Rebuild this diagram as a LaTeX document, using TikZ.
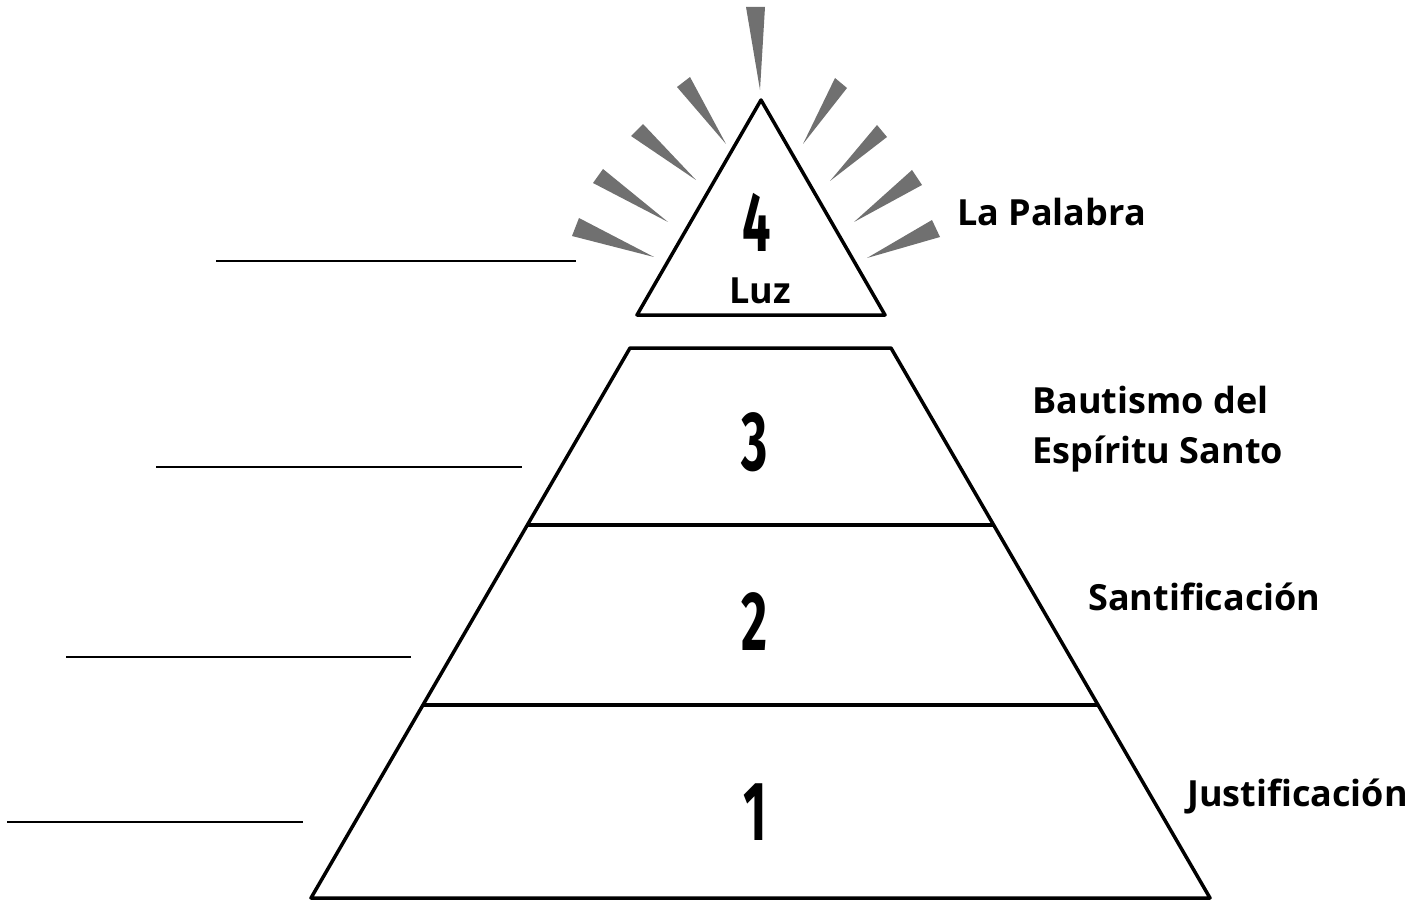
\documentclass[tikz,border=0pt]{standalone}
\usepackage{fontspec}
\usepackage{graphicx}
\setmainfont{Open Sans}
\newfontfamily\numfont{Fira Sans}

\definecolor{raygray}{HTML}{707070}
\newcommand{\bignum}[1]{\scalebox{0.6}[1]{\numfont\fontsize{84}{84}\selectfont\bfseries #1}}

\tikzset{
  tier/.style={line width=3.5pt, line join=round},
  ray/.style={fill=raygray},
  blank/.style={line width=2pt},
  tag/.style={font=\fontsize{36}{50}\selectfont\bfseries, inner sep=0pt, align=left},
}

\begin{document}
\begin{tikzpicture}[x=1pt, y=-1pt]
        \useasboundingbox (0,0) rectangle (1421,909);

        % rays round the top
        \foreach \ax/\ay/\bx/\by/\tx/\ty in {746/7/765/7/760/90,
                677/87/690/77/726/144, 631/136/643/124/696/180,
                593/183/603/169/668/222, 572/236/579/218/654/257,
                835/78/847/88/803/144, 877/125/887/137/830/181,
                912/170/922/185/854/222, 932/220/940/237/867/258}
          \fill[ray] (\ax,\ay) -- (\bx,\by) -- (\tx,\ty) -- cycle;

        % draw pyramid
        \draw[tier] (761,100) -- (637,315) -- (885,315) -- cycle;
        \draw[tier] (630,348) -- (311,898) -- (1210,898) -- (891,348) -- cycle;
        \draw[tier] (528,525) -- (993,525);
        \draw[tier] (424,705) -- (1098,705);

        % place nodes
        \node at (757,222)   (n4) {\bignum{4}};
        \node[tag, anchor=base] at (760,304)  (luz) {Luz};
        \node at (755,442)   (n3) {\bignum{3}};
        \node at (755,622)   (n2) {\bignum{2}};
        \node at (755,812)   (n1) {\bignum{1}};

        \node[tag, anchor=base west] at (957,226)  (palabra) {La Palabra};
        \node[tag, anchor=west] at (1032,429)  (bautismo) {Bautismo del\\Espíritu Santo};
        \node[tag, anchor=base west] at (1088,610)  (santif) {Santificación};
        \node[tag, anchor=base west] at (1187,806)  (justif) {Justificación};

        % blank lines
        \draw[blank] (216,261) -- (576,261);
        \draw[blank] (156,467) -- (522,467);
        \draw[blank] (66,657) -- (411,657);
        \draw[blank] (7,822) -- (303,822);
\end{tikzpicture}
\end{document}
